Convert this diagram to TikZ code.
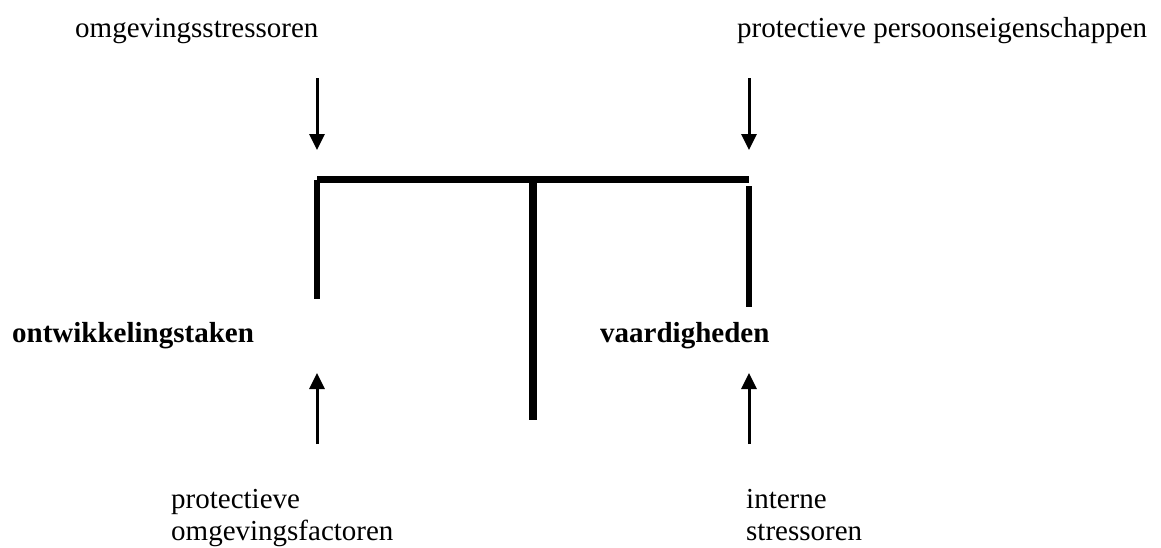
\documentclass[tikz,border=0pt]{standalone}
\usepackage{fontspec}
\setmainfont{Liberation Serif}
\usetikzlibrary{arrows.meta}

\begin{document}
\begin{tikzpicture}%
	[x=1pt,
	y=-1pt,
	textlabel/.style={font=\fontsize{29}{32}\selectfont, inner sep=0pt, anchor=base west, align=left},
	boldlabel/.style={textlabel, font=\fontsize{29}{32}\selectfont\bfseries},
	influence/.style={line width=3pt, -{Triangle[width=15pt,length=16pt]}},
	barline/.style={line width=7.5pt},
	sideline/.style={line width=6.5pt},
	midline/.style={line width=8pt}]
%
\useasboundingbox (0,0) rectangle (1161,547);
%%
%% Labels
%%
\node[textlabel] (omgstress) at (75,37) {omgevingsstressoren};
\node[textlabel] (protpers) at (737,37) {protectieve persoonseigenschappen};
\node[boldlabel] (taken) at (12,342) {ontwikkelingstaken};
\node[boldlabel] (vaardig) at (600,342) {vaardigheden};
%% (base of a two-line label is its last line)
\node[textlabel] (protomg) at (171,540) {protectieve\\omgevingsfactoren};
\node[textlabel] (intstress) at (746,540) {interne\\stressoren};
%%
%% Arrow ends
%%
\coordinate (omgstress-from) at (317,78);
\coordinate (omgstress-to) at (317,150);
\coordinate (protpers-from) at (749,78);
\coordinate (protpers-to) at (749,150);
\coordinate (protomg-from) at (317,444);
\coordinate (protomg-to) at (317,373);
\coordinate (intstress-from) at (749,444);
\coordinate (intstress-to) at (749,373);
%%
%% The balance
%%
\coordinate (bar-left) at (317,179.5);
\coordinate (bar-right) at (749,179.5);
\coordinate (bar-mid) at (533,179.5);
\coordinate (foot) at (533,420);
\coordinate (taken-top) at (317,179.5);
\coordinate (taken-bottom) at (317,299);
\coordinate (vaardig-top) at (749,186);
\coordinate (vaardig-bottom) at (749,307);

\draw[barline] (bar-left) -- (bar-right);
\draw[midline] (bar-mid) -- (foot);
\draw[sideline] (taken-top) -- (taken-bottom);
\draw[sideline] (vaardig-top) -- (vaardig-bottom);
%%
%% Influences
%%
\draw[influence] (omgstress-from) -- (omgstress-to);
\draw[influence] (protpers-from) -- (protpers-to);
\draw[influence] (protomg-from) -- (protomg-to);
\draw[influence] (intstress-from) -- (intstress-to);

\end{tikzpicture}
\end{document}
